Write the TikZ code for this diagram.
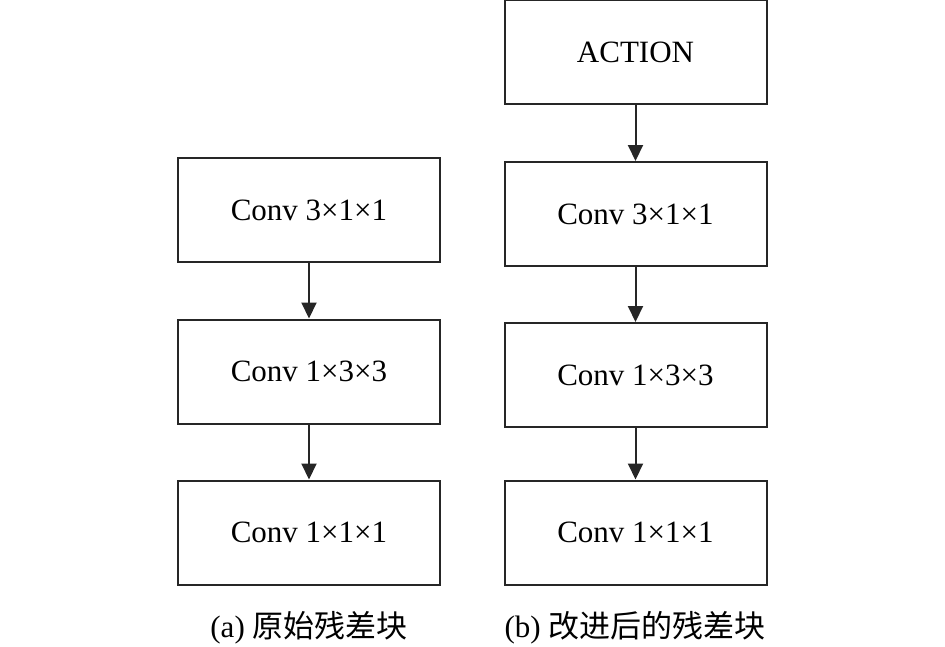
\documentclass[tikz,border=0pt]{standalone}
\usepackage{fontspec}
\setmainfont{Liberation Serif}
\newfontfamily\cjk{Noto Sans CJK SC}
\usetikzlibrary{arrows.meta}
\begin{document}
\begin{tikzpicture}[x=1pt,y=-1pt,
  blk/.style={draw=black!85,line width=2pt,minimum width=262pt,minimum height=104pt,inner sep=0pt,font=\fontsize{31}{31}\selectfont},
  conn/.style={draw=black!85,line width=2pt,-{Triangle[width=15pt,length=16pt]}},
  captxt/.style={font=\fontsize{31}{31}\selectfont,inner sep=0pt}]
\useasboundingbox (0,0) rectangle (945,646);
\node[blk] (a1) at (309,210) {Conv 3×1×1};
\node[blk] (a2) at (309,371.5) {Conv 1×3×3};
\node[blk] (a3) at (309,532.5) {Conv 1×1×1};
\node[blk] (b0) at (635.5,52) {ACTION};
\node[blk] (b1) at (635.5,214) {Conv 3×1×1};
\node[blk] (b2) at (635.5,375) {Conv 1×3×3};
\node[blk] (b3) at (635.5,532.5) {Conv 1×1×1};
\draw[conn] (a1) -- (a2);
\draw[conn] (a2) -- (a3);
\draw[conn] (b0) -- (b1);
\draw[conn] (b1) -- (b2);
\draw[conn] (b2) -- (b3);
\node[captxt] (ca) at (309,628) {(a) {\cjk 原始残差块}};
\node[captxt] (cb) at (635,628) {(b) {\cjk 改进后的残差块}};
\end{tikzpicture}
\end{document}
